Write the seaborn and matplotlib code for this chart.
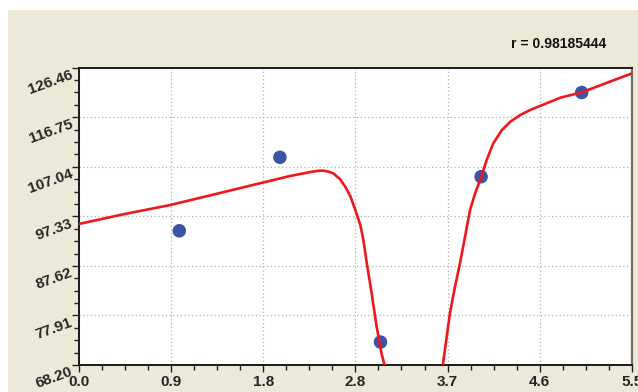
import numpy as np
import pandas as pd
import matplotlib
matplotlib.use("Agg")
import matplotlib.pyplot as plt
from matplotlib.patches import Rectangle
from matplotlib.ticker import AutoMinorLocator
import seaborn as sns

# ---- data ----
point_x = [1.0, 2.0, 3.0, 4.0, 5.0]
point_y = [94.5, 108.9, 72.7, 105.1, 121.6]

curve1_x = [0.0, 0.46, 0.91, 1.39, 1.82, 2.10, 2.20, 2.30, 2.38, 2.43, 2.48, 2.53,
            2.60, 2.65, 2.70, 2.75, 2.80, 2.83, 2.86, 2.91, 2.96, 3.01, 3.04]
curve1_y = [95.83, 97.8, 99.55, 101.84, 103.9, 105.23, 105.62, 106.01, 106.25,
            106.3, 106.1, 105.76, 104.58, 103.1, 101.3, 98.57, 95.6, 92.7, 88.6,
            82.5, 75.9, 70.49, 68.2]
curve2_x = [3.62, 3.69, 3.74, 3.79, 3.84, 3.89, 3.94, 3.97, 4.006, 4.056, 4.12,
            4.205, 4.29, 4.39, 4.49, 4.59, 4.69, 4.79, 5.0, 5.25, 5.5]
curve2_y = [68.2, 78.33, 83.5, 88.13, 93.3, 98.57, 101.8, 103.4, 105.4, 108.4,
            111.6, 114.2, 115.87, 117.2, 118.2, 119.0, 119.8, 120.6, 121.63, 123.5,
            125.35]

x_tick_labels = ["0.0", "0.9", "1.8", "2.8", "3.7", "4.6", "5.5"]
y_tick_labels = ["68.20", "77.91", "87.62", "97.33", "107.04", "116.75", "126.46"]
r_text = "r = 0.98185444"

x_min, x_max = 0.0, 5.5
y_min, y_max = 68.20, 126.46

# ---- style ----
sns.set_style("white")
plt.rcParams["font.family"] = ["Liberation Sans", "DejaVu Sans"]

BG = "#ECE9D8"
fig = plt.figure(figsize=(6.38, 3.92), dpi=100, facecolor="white")
fig.patches.append(Rectangle((8 / 638, 0), 1 - 8 / 638, (392 - 10) / 392,
                             transform=fig.transFigure, facecolor=BG,
                             edgecolor="none", zorder=-10))

ax = fig.add_axes([78.7 / 638, (392 - 365) / 392, (632 - 78.7) / 638,
                   (365 - 67.7) / 392])
ax.set_facecolor("white")

curve_df = pd.DataFrame({
    "x": curve1_x + curve2_x,
    "y": curve1_y + curve2_y,
    "seg": [0] * len(curve1_x) + [1] * len(curve2_x),
})
pts_df = pd.DataFrame({"x": point_x, "y": point_y})

sns.scatterplot(data=pts_df, x="x", y="y", ax=ax, s=95, color="#3A54A6",
                edgecolor="none", zorder=3)
sns.lineplot(data=curve_df, x="x", y="y", units="seg", estimator=None, sort=False,
             ax=ax, color="#F0161E", lw=1.9, zorder=4)
for ln in ax.get_lines():
    ln.set_solid_joinstyle("round")
    ln.set_solid_capstyle("round")

ax.set_xlim(x_min, x_max)
ax.set_ylim(y_min, y_max)
ax.set_xticks(np.linspace(x_min, x_max, len(x_tick_labels)))
ax.set_yticks(np.linspace(y_min, y_max, len(y_tick_labels)))
ax.set_xticklabels(x_tick_labels, fontsize=11, fontweight="bold")
ax.set_yticklabels(y_tick_labels, fontsize=11, fontweight="bold",
                   rotation=20, ha="right", va="top", rotation_mode="anchor")
ax.xaxis.set_minor_locator(AutoMinorLocator(4))
ax.yaxis.set_minor_locator(AutoMinorLocator(4))
ax.tick_params(which="major", direction="out", length=5, width=1.0,
               color="#222222", left=True, bottom=True)
ax.tick_params(which="minor", direction="out", length=3.6, width=1.0,
               color="#222222", left=True, bottom=True)
ax.tick_params(axis="y", which="major", pad=1.5)
ax.tick_params(axis="x", which="major", pad=2.0)
ax.set_xlabel("")
ax.set_ylabel("")

ax.grid(which="major", color="#B0B0B0", linestyle=(0, (1, 2)), lw=0.9)
ax.grid(which="minor", visible=False)

for side in ["left", "bottom", "top"]:
    ax.spines[side].set_color("#1A1A1A")
    ax.spines[side].set_linewidth(1.4)
ax.spines["right"].set_color("#6E6E6E")
ax.spines["right"].set_linewidth(1.6)
for s in ax.spines.values():
    s.set_visible(True)

fig.text(606 / 638, 1 - 44 / 392, r_text, ha="right", va="center",
         fontsize=10, fontweight="bold", color="#111111")

fig.savefig("out.png", dpi=100, facecolor=fig.get_facecolor())
